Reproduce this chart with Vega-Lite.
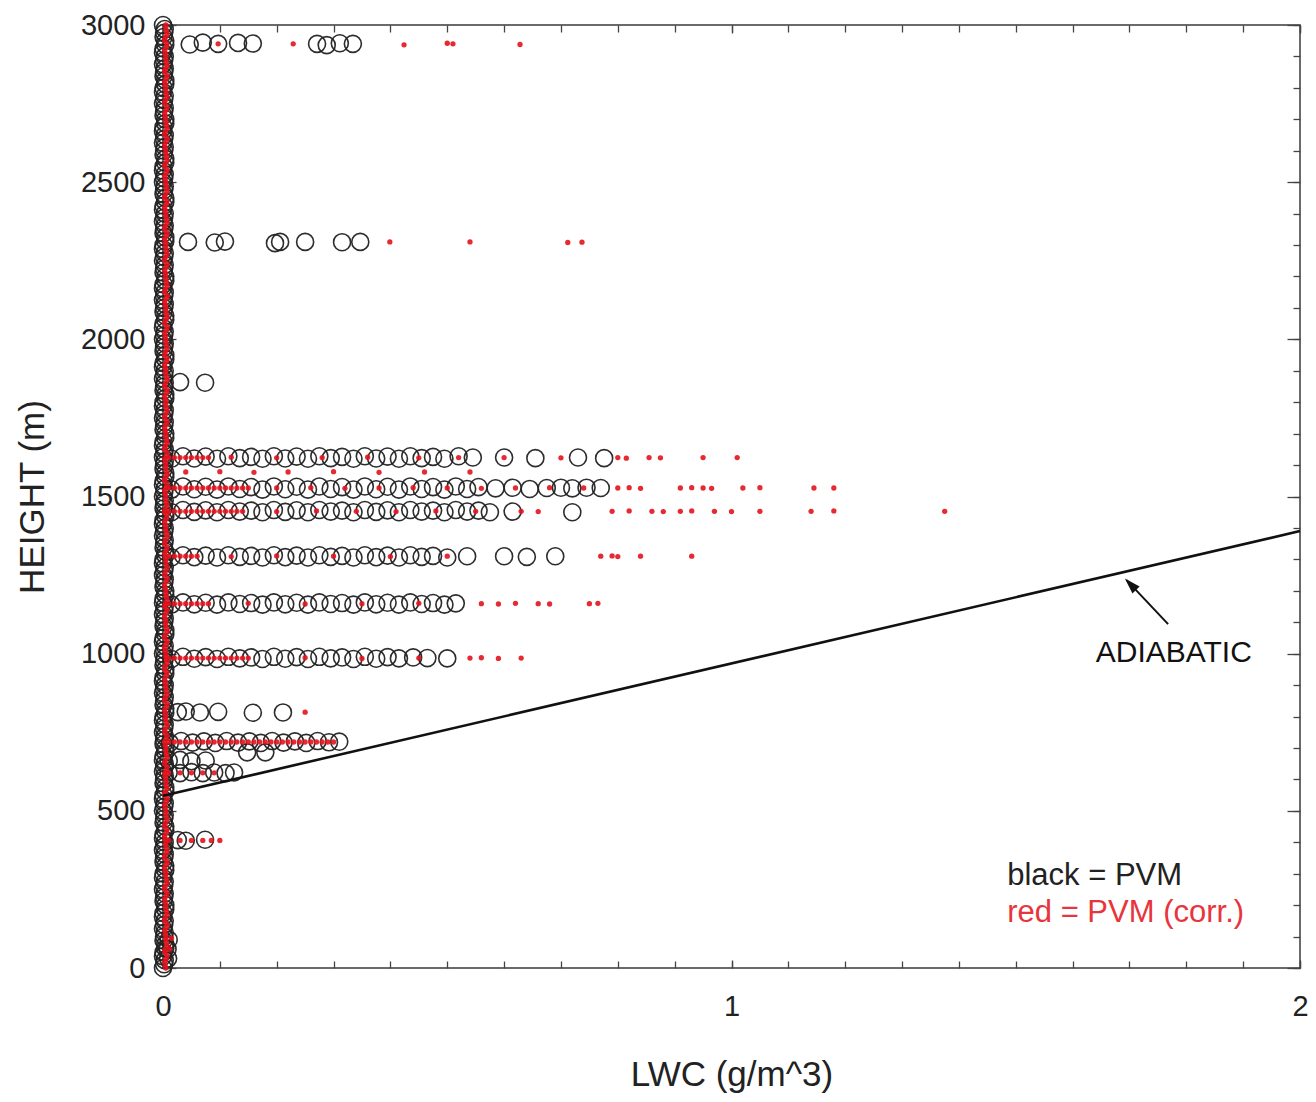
{
"$schema":"https://vega.github.io/schema/vega-lite/v6.json",
"autosize":{"type":"none"},
"width":1137,"height":943,
"padding":{"left":163,"top":25,"right":16,"bottom":134},
"background":"white",
"config":{"view":{"stroke":"#3a3a3a","strokeWidth":1.5},"axis":{"grid":false,"domain":false,"labelFont":"Liberation Sans","titleFont":"Liberation Sans","labelColor":"#222","titleColor":"#222","tickColor":"#444","tickWidth":1.3,"titleFontWeight":"normal","labelFlush":false,"labelOverlap":false}},
"datasets":{
"pvm":[
{"x":0,"h":0},{"x":0.003,"h":25},{"x":0.001,"h":50},{"x":0.004,"h":75},{"x":0.002,"h":100},{"x":0.009,"h":30},{"x":0.008,"h":60},{"x":0.01,"h":90},
{"x":0,"h":125},{"x":0.003,"h":150},{"x":0.001,"h":175},{"x":0.004,"h":200},{"x":0.002,"h":225},
{"x":0,"h":250},{"x":0.003,"h":275},{"x":0.001,"h":300},{"x":0.004,"h":325},{"x":0.002,"h":350},
{"x":0,"h":375},{"x":0.003,"h":400},{"x":0.001,"h":425},{"x":0.004,"h":450},{"x":0.002,"h":475},
{"x":0,"h":500},{"x":0.003,"h":525},{"x":0.001,"h":550},{"x":0.004,"h":575},{"x":0.002,"h":600},
{"x":0,"h":625},{"x":0.003,"h":650},{"x":0.001,"h":675},{"x":0.004,"h":700},{"x":0.002,"h":725},
{"x":0,"h":750},{"x":0.003,"h":775},{"x":0.001,"h":800},{"x":0.004,"h":825},{"x":0.002,"h":850},
{"x":0,"h":875},{"x":0.003,"h":900},{"x":0.001,"h":925},{"x":0.004,"h":950},{"x":0.002,"h":975},
{"x":0,"h":1000},{"x":0.003,"h":1025},{"x":0.001,"h":1050},{"x":0.004,"h":1075},{"x":0.002,"h":1100},
{"x":0,"h":1125},{"x":0.003,"h":1150},{"x":0.001,"h":1175},{"x":0.004,"h":1200},{"x":0.002,"h":1225},
{"x":0,"h":1250},{"x":0.003,"h":1275},{"x":0.001,"h":1300},{"x":0.004,"h":1325},{"x":0.002,"h":1350},
{"x":0,"h":1375},{"x":0.003,"h":1400},{"x":0.001,"h":1425},{"x":0.004,"h":1450},{"x":0.002,"h":1475},
{"x":0,"h":1500},{"x":0.003,"h":1525},{"x":0.001,"h":1550},{"x":0.004,"h":1575},{"x":0.002,"h":1600},
{"x":0,"h":1625},{"x":0.003,"h":1650},{"x":0.001,"h":1675},{"x":0.004,"h":1700},{"x":0.002,"h":1725},
{"x":0,"h":1750},{"x":0.003,"h":1775},{"x":0.001,"h":1800},{"x":0.004,"h":1825},{"x":0.002,"h":1850},
{"x":0,"h":1875},{"x":0.003,"h":1900},{"x":0.001,"h":1925},{"x":0.004,"h":1950},{"x":0.002,"h":1975},
{"x":0,"h":2000},{"x":0.003,"h":2025},{"x":0.001,"h":2050},{"x":0.004,"h":2075},{"x":0.002,"h":2100},
{"x":0,"h":2125},{"x":0.003,"h":2150},{"x":0.001,"h":2175},{"x":0.004,"h":2200},{"x":0.002,"h":2225},
{"x":0,"h":2250},{"x":0.003,"h":2275},{"x":0.001,"h":2300},{"x":0.004,"h":2325},{"x":0.002,"h":2350},
{"x":0,"h":2375},{"x":0.003,"h":2400},{"x":0.001,"h":2425},{"x":0.004,"h":2450},{"x":0.002,"h":2475},
{"x":0,"h":2500},{"x":0.003,"h":2525},{"x":0.001,"h":2550},{"x":0.004,"h":2575},{"x":0.002,"h":2600},
{"x":0,"h":2625},{"x":0.003,"h":2650},{"x":0.001,"h":2675},{"x":0.004,"h":2700},{"x":0.002,"h":2725},
{"x":0,"h":2750},{"x":0.003,"h":2775},{"x":0.001,"h":2800},{"x":0.004,"h":2825},{"x":0.002,"h":2850},
{"x":0,"h":2875},{"x":0.003,"h":2900},{"x":0.001,"h":2925},{"x":0.004,"h":2950},{"x":0.002,"h":2975},{"x":0,"h":3000},
{"x":0.002,"h":12},{"x":0,"h":37},{"x":0.004,"h":62},{"x":0.001,"h":87},{"x":0.003,"h":112},
{"x":0.002,"h":137},{"x":0,"h":162},{"x":0.004,"h":187},{"x":0.001,"h":212},{"x":0.003,"h":237},
{"x":0.002,"h":262},{"x":0,"h":287},{"x":0.004,"h":312},{"x":0.001,"h":337},{"x":0.003,"h":362},
{"x":0.002,"h":387},{"x":0,"h":412},{"x":0.004,"h":437},{"x":0.001,"h":462},{"x":0.003,"h":487},
{"x":0.002,"h":512},{"x":0,"h":537},{"x":0.004,"h":562},{"x":0.001,"h":587},{"x":0.003,"h":612},
{"x":0.002,"h":637},{"x":0,"h":662},{"x":0.004,"h":687},{"x":0.001,"h":712},{"x":0.003,"h":737},
{"x":0.002,"h":762},{"x":0,"h":787},{"x":0.004,"h":812},{"x":0.001,"h":837},{"x":0.003,"h":862},
{"x":0.002,"h":887},{"x":0,"h":912},{"x":0.004,"h":937},{"x":0.001,"h":962},{"x":0.003,"h":987},
{"x":0.002,"h":1012},{"x":0,"h":1037},{"x":0.004,"h":1062},{"x":0.001,"h":1087},{"x":0.003,"h":1112},
{"x":0.002,"h":1137},{"x":0,"h":1162},{"x":0.004,"h":1187},{"x":0.001,"h":1212},{"x":0.003,"h":1237},
{"x":0.002,"h":1262},{"x":0,"h":1287},{"x":0.004,"h":1312},{"x":0.001,"h":1337},{"x":0.003,"h":1362},
{"x":0.002,"h":1387},{"x":0,"h":1412},{"x":0.004,"h":1437},{"x":0.001,"h":1462},{"x":0.003,"h":1487},
{"x":0.002,"h":1512},{"x":0,"h":1537},{"x":0.004,"h":1562},{"x":0.001,"h":1587},{"x":0.003,"h":1612},
{"x":0.002,"h":1637},{"x":0,"h":1662},{"x":0.004,"h":1687},{"x":0.001,"h":1712},{"x":0.003,"h":1737},
{"x":0.002,"h":1762},{"x":0,"h":1787},{"x":0.004,"h":1812},{"x":0.001,"h":1837},{"x":0.003,"h":1862},
{"x":0.002,"h":1887},{"x":0,"h":1912},{"x":0.004,"h":1937},{"x":0.001,"h":1962},{"x":0.003,"h":1987},
{"x":0.002,"h":2012},{"x":0,"h":2037},{"x":0.004,"h":2062},{"x":0.001,"h":2087},{"x":0.003,"h":2112},
{"x":0.002,"h":2137},{"x":0,"h":2162},{"x":0.004,"h":2187},{"x":0.001,"h":2212},{"x":0.003,"h":2237},
{"x":0.002,"h":2262},{"x":0,"h":2287},{"x":0.004,"h":2312},{"x":0.001,"h":2337},{"x":0.003,"h":2362},
{"x":0.002,"h":2387},{"x":0,"h":2412},{"x":0.004,"h":2437},{"x":0.001,"h":2462},{"x":0.003,"h":2487},
{"x":0.002,"h":2512},{"x":0,"h":2537},{"x":0.004,"h":2562},{"x":0.001,"h":2587},{"x":0.003,"h":2612},
{"x":0.002,"h":2637},{"x":0,"h":2662},{"x":0.004,"h":2687},{"x":0.001,"h":2712},{"x":0.003,"h":2737},
{"x":0.002,"h":2762},{"x":0,"h":2787},{"x":0.004,"h":2812},{"x":0.001,"h":2837},{"x":0.003,"h":2862},
{"x":0.002,"h":2887},{"x":0,"h":2912},{"x":0.004,"h":2937},{"x":0.001,"h":2962},{"x":0.003,"h":2987},
{"x":0.047,"h":2938},{"x":0.07,"h":2944},{"x":0.097,"h":2940},{"x":0.132,"h":2943},{"x":0.158,"h":2941},{"x":0.271,"h":2940},{"x":0.288,"h":2936},{"x":0.311,"h":2942},{"x":0.334,"h":2940},
{"x":0.044,"h":2310},{"x":0.091,"h":2308},{"x":0.109,"h":2311},{"x":0.197,"h":2306},{"x":0.206,"h":2310},{"x":0.25,"h":2310},{"x":0.315,"h":2309},{"x":0.347,"h":2310},
{"x":0.03,"h":1864},{"x":0.074,"h":1862},
{"x":0.015,"h":1620},{"x":0.035,"h":1628},{"x":0.055,"h":1621},{"x":0.075,"h":1627},{"x":0.095,"h":1620},{"x":0.115,"h":1628},{"x":0.135,"h":1622},{"x":0.155,"h":1626},{"x":0.175,"h":1620},{"x":0.195,"h":1628},{"x":0.215,"h":1621},{"x":0.235,"h":1627},{"x":0.255,"h":1620},{"x":0.275,"h":1628},{"x":0.295,"h":1622},{"x":0.315,"h":1626},{"x":0.335,"h":1620},{"x":0.355,"h":1628},{"x":0.375,"h":1621},{"x":0.395,"h":1627},{"x":0.415,"h":1620},{"x":0.435,"h":1628},{"x":0.455,"h":1622},{"x":0.475,"h":1626},{"x":0.495,"h":1620},{"x":0.52,"h":1628},{"x":0.545,"h":1624},{"x":0.6,"h":1624},{"x":0.655,"h":1622},{"x":0.73,"h":1624},{"x":0.776,"h":1622},
{"x":0.015,"h":1522},{"x":0.035,"h":1532},{"x":0.055,"h":1523},{"x":0.075,"h":1531},{"x":0.095,"h":1522},{"x":0.115,"h":1532},{"x":0.135,"h":1524},{"x":0.155,"h":1530},{"x":0.175,"h":1522},{"x":0.195,"h":1532},{"x":0.215,"h":1523},{"x":0.235,"h":1531},{"x":0.255,"h":1522},{"x":0.275,"h":1532},{"x":0.295,"h":1524},{"x":0.315,"h":1530},{"x":0.335,"h":1522},{"x":0.355,"h":1532},{"x":0.375,"h":1523},{"x":0.395,"h":1531},{"x":0.415,"h":1522},{"x":0.435,"h":1532},{"x":0.455,"h":1524},{"x":0.475,"h":1530},{"x":0.495,"h":1522},{"x":0.515,"h":1532},{"x":0.535,"h":1524},{"x":0.555,"h":1530},{"x":0.585,"h":1526},{"x":0.615,"h":1528},{"x":0.645,"h":1524},{"x":0.675,"h":1527},{"x":0.7,"h":1528},{"x":0.72,"h":1526},{"x":0.745,"h":1528},{"x":0.77,"h":1527},
{"x":0.015,"h":1450},{"x":0.035,"h":1457},{"x":0.055,"h":1451},{"x":0.075,"h":1456},{"x":0.095,"h":1450},{"x":0.115,"h":1457},{"x":0.135,"h":1452},{"x":0.155,"h":1455},{"x":0.175,"h":1450},{"x":0.195,"h":1457},{"x":0.215,"h":1451},{"x":0.235,"h":1456},{"x":0.255,"h":1450},{"x":0.275,"h":1457},{"x":0.295,"h":1452},{"x":0.315,"h":1455},{"x":0.335,"h":1450},{"x":0.355,"h":1457},{"x":0.375,"h":1451},{"x":0.395,"h":1456},{"x":0.415,"h":1450},{"x":0.435,"h":1457},{"x":0.455,"h":1452},{"x":0.475,"h":1455},{"x":0.495,"h":1450},{"x":0.515,"h":1457},{"x":0.535,"h":1452},{"x":0.555,"h":1455},{"x":0.575,"h":1450},{"x":0.615,"h":1452},{"x":0.72,"h":1450},
{"x":0.015,"h":1306},{"x":0.035,"h":1313},{"x":0.055,"h":1307},{"x":0.075,"h":1312},{"x":0.095,"h":1306},{"x":0.115,"h":1313},{"x":0.135,"h":1308},{"x":0.155,"h":1311},{"x":0.175,"h":1306},{"x":0.195,"h":1313},{"x":0.215,"h":1307},{"x":0.235,"h":1312},{"x":0.255,"h":1306},{"x":0.275,"h":1313},{"x":0.295,"h":1308},{"x":0.315,"h":1311},{"x":0.335,"h":1306},{"x":0.355,"h":1313},{"x":0.375,"h":1307},{"x":0.395,"h":1312},{"x":0.415,"h":1306},{"x":0.435,"h":1313},{"x":0.455,"h":1308},{"x":0.475,"h":1311},{"x":0.5,"h":1306},{"x":0.535,"h":1310},{"x":0.6,"h":1310},{"x":0.64,"h":1308},{"x":0.69,"h":1310},
{"x":0.015,"h":1156},{"x":0.035,"h":1163},{"x":0.055,"h":1157},{"x":0.075,"h":1162},{"x":0.095,"h":1156},{"x":0.115,"h":1163},{"x":0.135,"h":1158},{"x":0.155,"h":1161},{"x":0.175,"h":1156},{"x":0.195,"h":1163},{"x":0.215,"h":1157},{"x":0.235,"h":1162},{"x":0.255,"h":1156},{"x":0.275,"h":1163},{"x":0.295,"h":1158},{"x":0.315,"h":1161},{"x":0.335,"h":1156},{"x":0.355,"h":1163},{"x":0.375,"h":1157},{"x":0.395,"h":1162},{"x":0.415,"h":1156},{"x":0.435,"h":1163},{"x":0.455,"h":1158},{"x":0.475,"h":1161},{"x":0.495,"h":1156},{"x":0.515,"h":1160},
{"x":0.015,"h":983},{"x":0.035,"h":990},{"x":0.055,"h":984},{"x":0.075,"h":989},{"x":0.095,"h":983},{"x":0.115,"h":990},{"x":0.135,"h":985},{"x":0.155,"h":988},{"x":0.175,"h":983},{"x":0.195,"h":990},{"x":0.215,"h":984},{"x":0.235,"h":989},{"x":0.255,"h":983},{"x":0.275,"h":990},{"x":0.295,"h":985},{"x":0.315,"h":988},{"x":0.335,"h":983},{"x":0.355,"h":990},{"x":0.375,"h":984},{"x":0.395,"h":989},{"x":0.415,"h":985},{"x":0.44,"h":988},{"x":0.465,"h":986},{"x":0.5,"h":985},
{"x":0.026,"h":814},{"x":0.04,"h":816},{"x":0.065,"h":813},{"x":0.097,"h":815},{"x":0.158,"h":812},{"x":0.211,"h":813},
{"x":0.012,"h":716},{"x":0.032,"h":722},{"x":0.052,"h":717},{"x":0.072,"h":721},{"x":0.092,"h":716},{"x":0.112,"h":722},{"x":0.132,"h":717},{"x":0.152,"h":721},{"x":0.172,"h":716},{"x":0.192,"h":722},{"x":0.212,"h":717},{"x":0.232,"h":721},{"x":0.252,"h":716},{"x":0.272,"h":722},{"x":0.292,"h":718},{"x":0.31,"h":720},
{"x":0.148,"h":686},{"x":0.18,"h":686},
{"x":0.01,"h":660},{"x":0.03,"h":662},{"x":0.05,"h":658},{"x":0.075,"h":660},
{"x":0.01,"h":622},{"x":0.03,"h":620},{"x":0.05,"h":623},{"x":0.07,"h":620},{"x":0.09,"h":622},{"x":0.11,"h":620},{"x":0.125,"h":622},
{"x":0.026,"h":407},{"x":0.04,"h":405},{"x":0.074,"h":408}
],
"corr":[
{"x":0.005,"h":0},{"x":0.003,"h":20},{"x":0.007,"h":40},{"x":0.004,"h":60},{"x":0.006,"h":80},{"x":0.005,"h":100},{"x":0.003,"h":120},{"x":0.007,"h":140},{"x":0.004,"h":160},{"x":0.006,"h":180},
{"x":0.005,"h":200},{"x":0.003,"h":220},{"x":0.007,"h":240},{"x":0.004,"h":260},{"x":0.006,"h":280},{"x":0.005,"h":300},{"x":0.003,"h":320},{"x":0.007,"h":340},{"x":0.004,"h":360},{"x":0.006,"h":380},
{"x":0.005,"h":400},{"x":0.003,"h":420},{"x":0.007,"h":440},{"x":0.004,"h":460},{"x":0.006,"h":480},{"x":0.005,"h":500},{"x":0.003,"h":520},{"x":0.007,"h":540},{"x":0.004,"h":560},{"x":0.006,"h":580},
{"x":0.005,"h":600},{"x":0.003,"h":620},{"x":0.007,"h":640},{"x":0.004,"h":660},{"x":0.006,"h":680},{"x":0.005,"h":700},{"x":0.003,"h":720},{"x":0.007,"h":740},{"x":0.004,"h":760},{"x":0.006,"h":780},
{"x":0.005,"h":800},{"x":0.003,"h":820},{"x":0.007,"h":840},{"x":0.004,"h":860},{"x":0.006,"h":880},{"x":0.005,"h":900},{"x":0.003,"h":920},{"x":0.007,"h":940},{"x":0.004,"h":960},{"x":0.006,"h":980},
{"x":0.005,"h":1000},{"x":0.003,"h":1020},{"x":0.007,"h":1040},{"x":0.004,"h":1060},{"x":0.006,"h":1080},{"x":0.005,"h":1100},{"x":0.003,"h":1120},{"x":0.007,"h":1140},{"x":0.004,"h":1160},{"x":0.006,"h":1180},
{"x":0.005,"h":1200},{"x":0.003,"h":1220},{"x":0.007,"h":1240},{"x":0.004,"h":1260},{"x":0.006,"h":1280},{"x":0.005,"h":1300},{"x":0.003,"h":1320},{"x":0.007,"h":1340},{"x":0.004,"h":1360},{"x":0.006,"h":1380},
{"x":0.005,"h":1400},{"x":0.003,"h":1420},{"x":0.007,"h":1440},{"x":0.004,"h":1460},{"x":0.006,"h":1480},{"x":0.005,"h":1500},{"x":0.003,"h":1520},{"x":0.007,"h":1540},{"x":0.004,"h":1560},{"x":0.006,"h":1580},
{"x":0.005,"h":1600},{"x":0.003,"h":1620},{"x":0.007,"h":1640},{"x":0.004,"h":1660},{"x":0.006,"h":1680},{"x":0.005,"h":1700},{"x":0.003,"h":1720},{"x":0.007,"h":1740},{"x":0.004,"h":1760},{"x":0.006,"h":1780},
{"x":0.005,"h":1800},{"x":0.003,"h":1820},{"x":0.007,"h":1840},{"x":0.004,"h":1860},{"x":0.006,"h":1880},{"x":0.005,"h":1900},{"x":0.003,"h":1920},{"x":0.007,"h":1940},{"x":0.004,"h":1960},{"x":0.006,"h":1980},
{"x":0.005,"h":2000},{"x":0.003,"h":2020},{"x":0.007,"h":2040},{"x":0.004,"h":2060},{"x":0.006,"h":2080},{"x":0.005,"h":2100},{"x":0.003,"h":2120},{"x":0.007,"h":2140},{"x":0.004,"h":2160},{"x":0.006,"h":2180},
{"x":0.005,"h":2200},{"x":0.003,"h":2220},{"x":0.007,"h":2240},{"x":0.004,"h":2260},{"x":0.006,"h":2280},{"x":0.005,"h":2300},{"x":0.003,"h":2320},{"x":0.007,"h":2340},{"x":0.004,"h":2360},{"x":0.006,"h":2380},
{"x":0.005,"h":2400},{"x":0.003,"h":2420},{"x":0.007,"h":2440},{"x":0.004,"h":2460},{"x":0.006,"h":2480},{"x":0.005,"h":2500},{"x":0.003,"h":2520},{"x":0.007,"h":2540},{"x":0.004,"h":2560},{"x":0.006,"h":2580},
{"x":0.005,"h":2600},{"x":0.003,"h":2620},{"x":0.007,"h":2640},{"x":0.004,"h":2660},{"x":0.006,"h":2680},{"x":0.005,"h":2700},{"x":0.003,"h":2720},{"x":0.007,"h":2740},{"x":0.004,"h":2760},{"x":0.006,"h":2780},
{"x":0.005,"h":2800},{"x":0.003,"h":2820},{"x":0.007,"h":2840},{"x":0.004,"h":2860},{"x":0.006,"h":2880},{"x":0.005,"h":2900},{"x":0.003,"h":2920},{"x":0.007,"h":2940},{"x":0.004,"h":2960},{"x":0.006,"h":2980},{"x":0.005,"h":3000},
{"x":0.004,"h":10},{"x":0.006,"h":30},{"x":0.003,"h":50},{"x":0.007,"h":70},{"x":0.005,"h":90},{"x":0.004,"h":110},{"x":0.006,"h":130},{"x":0.003,"h":150},{"x":0.007,"h":170},{"x":0.005,"h":190},
{"x":0.004,"h":210},{"x":0.006,"h":230},{"x":0.003,"h":250},{"x":0.007,"h":270},{"x":0.005,"h":290},{"x":0.004,"h":310},{"x":0.006,"h":330},{"x":0.003,"h":350},{"x":0.007,"h":370},{"x":0.005,"h":390},
{"x":0.004,"h":410},{"x":0.006,"h":430},{"x":0.003,"h":450},{"x":0.007,"h":470},{"x":0.005,"h":490},{"x":0.004,"h":510},{"x":0.006,"h":530},{"x":0.003,"h":550},{"x":0.007,"h":570},{"x":0.005,"h":590},
{"x":0.004,"h":610},{"x":0.006,"h":630},{"x":0.003,"h":650},{"x":0.007,"h":670},{"x":0.005,"h":690},{"x":0.004,"h":710},{"x":0.006,"h":730},{"x":0.003,"h":750},{"x":0.007,"h":770},{"x":0.005,"h":790},
{"x":0.004,"h":810},{"x":0.006,"h":830},{"x":0.003,"h":850},{"x":0.007,"h":870},{"x":0.005,"h":890},{"x":0.004,"h":910},{"x":0.006,"h":930},{"x":0.003,"h":950},{"x":0.007,"h":970},{"x":0.005,"h":990},
{"x":0.004,"h":1010},{"x":0.006,"h":1030},{"x":0.003,"h":1050},{"x":0.007,"h":1070},{"x":0.005,"h":1090},{"x":0.004,"h":1110},{"x":0.006,"h":1130},{"x":0.003,"h":1150},{"x":0.007,"h":1170},{"x":0.005,"h":1190},
{"x":0.004,"h":1210},{"x":0.006,"h":1230},{"x":0.003,"h":1250},{"x":0.007,"h":1270},{"x":0.005,"h":1290},{"x":0.004,"h":1310},{"x":0.006,"h":1330},{"x":0.003,"h":1350},{"x":0.007,"h":1370},{"x":0.005,"h":1390},
{"x":0.004,"h":1410},{"x":0.006,"h":1430},{"x":0.003,"h":1450},{"x":0.007,"h":1470},{"x":0.005,"h":1490},{"x":0.004,"h":1510},{"x":0.006,"h":1530},{"x":0.003,"h":1550},{"x":0.007,"h":1570},{"x":0.005,"h":1590},
{"x":0.004,"h":1610},{"x":0.006,"h":1630},{"x":0.003,"h":1650},{"x":0.007,"h":1670},{"x":0.005,"h":1690},{"x":0.004,"h":1710},{"x":0.006,"h":1730},{"x":0.003,"h":1750},{"x":0.007,"h":1770},{"x":0.005,"h":1790},
{"x":0.004,"h":1810},{"x":0.006,"h":1830},{"x":0.003,"h":1850},{"x":0.007,"h":1870},{"x":0.005,"h":1890},{"x":0.004,"h":1910},{"x":0.006,"h":1930},{"x":0.003,"h":1950},{"x":0.007,"h":1970},{"x":0.005,"h":1990},
{"x":0.004,"h":2010},{"x":0.006,"h":2030},{"x":0.003,"h":2050},{"x":0.007,"h":2070},{"x":0.005,"h":2090},{"x":0.004,"h":2110},{"x":0.006,"h":2130},{"x":0.003,"h":2150},{"x":0.007,"h":2170},{"x":0.005,"h":2190},
{"x":0.004,"h":2210},{"x":0.006,"h":2230},{"x":0.003,"h":2250},{"x":0.007,"h":2270},{"x":0.005,"h":2290},{"x":0.004,"h":2310},{"x":0.006,"h":2330},{"x":0.003,"h":2350},{"x":0.007,"h":2370},{"x":0.005,"h":2390},
{"x":0.004,"h":2410},{"x":0.006,"h":2430},{"x":0.003,"h":2450},{"x":0.007,"h":2470},{"x":0.005,"h":2490},{"x":0.004,"h":2510},{"x":0.006,"h":2530},{"x":0.003,"h":2550},{"x":0.007,"h":2570},{"x":0.005,"h":2590},
{"x":0.004,"h":2610},{"x":0.006,"h":2630},{"x":0.003,"h":2650},{"x":0.007,"h":2670},{"x":0.005,"h":2690},{"x":0.004,"h":2710},{"x":0.006,"h":2730},{"x":0.003,"h":2750},{"x":0.007,"h":2770},{"x":0.005,"h":2790},
{"x":0.004,"h":2810},{"x":0.006,"h":2830},{"x":0.003,"h":2850},{"x":0.007,"h":2870},{"x":0.005,"h":2890},{"x":0.004,"h":2910},{"x":0.006,"h":2930},{"x":0.003,"h":2950},{"x":0.007,"h":2970},{"x":0.005,"h":2990},
{"x":0.015,"h":95},{"x":0.012,"h":60},
{"x":0.097,"h":2940},{"x":0.229,"h":2940},{"x":0.424,"h":2937},{"x":0.5,"h":2942},{"x":0.51,"h":2940},{"x":0.628,"h":2938},
{"x":0.399,"h":2310},{"x":0.54,"h":2310},{"x":0.712,"h":2308},{"x":0.737,"h":2309},
{"x":0.01,"h":1624},{"x":0.02,"h":1624},{"x":0.03,"h":1624},{"x":0.04,"h":1624},{"x":0.05,"h":1624},{"x":0.06,"h":1624},{"x":0.07,"h":1624},{"x":0.08,"h":1624},{"x":0.12,"h":1625},{"x":0.2,"h":1623},{"x":0.28,"h":1624},{"x":0.36,"h":1625},{"x":0.45,"h":1623},{"x":0.52,"h":1624},{"x":0.6,"h":1624},{"x":0.7,"h":1623},{"x":0.8,"h":1624},{"x":0.815,"h":1622},{"x":0.855,"h":1624},{"x":0.875,"h":1623},{"x":0.95,"h":1624},{"x":1.01,"h":1624},
{"x":0.04,"h":1578},{"x":0.1,"h":1579},{"x":0.16,"h":1577},{"x":0.22,"h":1578},{"x":0.3,"h":1579},{"x":0.38,"h":1577},{"x":0.46,"h":1578},{"x":0.54,"h":1578},
{"x":0.01,"h":1527},{"x":0.02,"h":1527},{"x":0.03,"h":1527},{"x":0.04,"h":1527},{"x":0.05,"h":1527},{"x":0.06,"h":1527},{"x":0.07,"h":1527},{"x":0.08,"h":1527},{"x":0.09,"h":1527},{"x":0.1,"h":1527},{"x":0.11,"h":1527},{"x":0.12,"h":1527},{"x":0.13,"h":1527},{"x":0.14,"h":1527},{"x":0.15,"h":1527},{"x":0.2,"h":1527},{"x":0.26,"h":1528},{"x":0.32,"h":1526},{"x":0.38,"h":1527},{"x":0.44,"h":1528},{"x":0.5,"h":1527},{"x":0.56,"h":1526},{"x":0.62,"h":1527},{"x":0.68,"h":1528},{"x":0.74,"h":1527},{"x":0.8,"h":1527},{"x":0.82,"h":1528},{"x":0.84,"h":1526},{"x":0.91,"h":1527},{"x":0.93,"h":1528},{"x":0.95,"h":1527},{"x":0.965,"h":1526},{"x":1.02,"h":1527},{"x":1.05,"h":1528},{"x":1.145,"h":1527},{"x":1.18,"h":1527},
{"x":0.01,"h":1453},{"x":0.02,"h":1453},{"x":0.03,"h":1453},{"x":0.04,"h":1453},{"x":0.05,"h":1453},{"x":0.06,"h":1453},{"x":0.07,"h":1453},{"x":0.08,"h":1453},{"x":0.09,"h":1453},{"x":0.1,"h":1453},{"x":0.11,"h":1453},{"x":0.12,"h":1453},{"x":0.13,"h":1453},{"x":0.14,"h":1453},{"x":0.2,"h":1452},{"x":0.27,"h":1454},{"x":0.34,"h":1453},{"x":0.41,"h":1452},{"x":0.48,"h":1454},{"x":0.55,"h":1453},{"x":0.63,"h":1453},{"x":0.66,"h":1452},{"x":0.79,"h":1453},{"x":0.82,"h":1454},{"x":0.86,"h":1453},{"x":0.88,"h":1452},{"x":0.91,"h":1453},{"x":0.93,"h":1454},{"x":0.97,"h":1453},{"x":1.0,"h":1452},{"x":1.05,"h":1453},{"x":1.14,"h":1453},{"x":1.18,"h":1454},{"x":1.375,"h":1453},
{"x":0.01,"h":1310},{"x":0.02,"h":1310},{"x":0.03,"h":1310},{"x":0.04,"h":1310},{"x":0.05,"h":1310},{"x":0.06,"h":1310},{"x":0.12,"h":1309},{"x":0.2,"h":1311},{"x":0.3,"h":1310},{"x":0.4,"h":1309},{"x":0.5,"h":1310},{"x":0.77,"h":1310},{"x":0.79,"h":1311},{"x":0.8,"h":1309},{"x":0.84,"h":1310},{"x":0.93,"h":1310},
{"x":0.01,"h":1159},{"x":0.02,"h":1159},{"x":0.03,"h":1159},{"x":0.04,"h":1159},{"x":0.05,"h":1159},{"x":0.06,"h":1159},{"x":0.07,"h":1159},{"x":0.08,"h":1159},{"x":0.15,"h":1160},{"x":0.25,"h":1158},{"x":0.35,"h":1159},{"x":0.45,"h":1160},{"x":0.56,"h":1159},{"x":0.59,"h":1158},{"x":0.62,"h":1160},{"x":0.66,"h":1159},{"x":0.68,"h":1158},{"x":0.75,"h":1159},{"x":0.765,"h":1160},
{"x":0.01,"h":986},{"x":0.02,"h":986},{"x":0.03,"h":986},{"x":0.04,"h":986},{"x":0.05,"h":986},{"x":0.06,"h":986},{"x":0.07,"h":986},{"x":0.08,"h":986},{"x":0.09,"h":986},{"x":0.1,"h":986},{"x":0.11,"h":986},{"x":0.12,"h":986},{"x":0.13,"h":986},{"x":0.14,"h":986},{"x":0.15,"h":986},{"x":0.25,"h":987},{"x":0.35,"h":985},{"x":0.45,"h":986},{"x":0.54,"h":986},{"x":0.56,"h":987},{"x":0.59,"h":985},{"x":0.63,"h":986},
{"x":0.25,"h":814},
{"x":0.01,"h":719},{"x":0.02,"h":719},{"x":0.03,"h":719},{"x":0.04,"h":719},{"x":0.05,"h":719},{"x":0.06,"h":719},{"x":0.07,"h":719},{"x":0.08,"h":719},{"x":0.09,"h":719},{"x":0.1,"h":719},{"x":0.11,"h":719},{"x":0.12,"h":719},{"x":0.13,"h":719},{"x":0.14,"h":719},{"x":0.15,"h":719},{"x":0.16,"h":719},{"x":0.17,"h":719},{"x":0.18,"h":719},{"x":0.19,"h":719},{"x":0.2,"h":719},{"x":0.21,"h":719},{"x":0.22,"h":719},{"x":0.23,"h":719},{"x":0.24,"h":719},{"x":0.25,"h":719},{"x":0.26,"h":719},{"x":0.27,"h":719},{"x":0.28,"h":719},{"x":0.29,"h":719},{"x":0.3,"h":719},
{"x":0.01,"h":621},{"x":0.03,"h":621},{"x":0.05,"h":621},{"x":0.07,"h":621},{"x":0.09,"h":621},
{"x":0.01,"h":406},{"x":0.03,"h":406},{"x":0.05,"h":406},{"x":0.07,"h":406},{"x":0.085,"h":406},{"x":0.1,"h":406}
],
"adi":[{"x":0,"h":548},{"x":2,"h":1390}],
"arrow":[{"x":1.768,"h":1094,"x2":1.695,"h2":1234}],
"head":[{"x":1.692,"h":1239}],
"lab1":[{"x":1.778,"h":1002,"t":"ADIABATIC"}],
"lab2":[{"x":1.485,"h":293,"t":"black = PVM"}],
"lab3":[{"x":1.485,"h":175,"t":"red = PVM (corr.)"}]
},
"resolve":{"axis":{"x":"independent","y":"independent"}},
"layer":[
{"data":{"name":"pvm"},
 "mark":{"type":"point","shape":"circle","filled":false,"size":290,"stroke":"#222","strokeWidth":1.6,"opacity":0.95},
 "encoding":{
  "x":{"field":"x","type":"quantitative","scale":{"domain":[0,2],"nice":false},"axis":{"orient":"bottom","values":[0,1,2],"labelExpr":"datum.value == 0 ? '0' : datum.value == 1 ? '1' : '2'","labelOverlap":false,"labelFlush":false,"ticks":false,"labelPadding":24,"labelFontSize":29,"title":"LWC (g/m^3)","titleFontSize":35,"titlePadding":36}},
  "y":{"field":"h","type":"quantitative","scale":{"domain":[0,3000],"nice":false},"axis":{"orient":"left","values":[0,500,1000,1500,2000,2500,3000],"format":"d","labelOverlap":false,"labelFlush":false,"ticks":false,"labelPadding":18,"labelFontSize":29,"title":"HEIGHT (m)","titleFontSize":35,"titlePadding":30}}
 }},
{"data":{"name":"corr"},
 "mark":{"type":"point","shape":"circle","filled":true,"size":28,"color":"#e3121c","opacity":0.9},
 "encoding":{
  "x":{"field":"x","type":"quantitative","axis":{"orient":"bottom","values":[0,0.1,0.2,0.3,0.4,0.5,0.6,0.7,0.8,0.9,1,1.1,1.2,1.3,1.4,1.5,1.6,1.7,1.8,1.9,2],"labels":false,"tickSize":-7,"title":null}},
  "y":{"field":"h","type":"quantitative","axis":{"orient":"left","values":[0,100,200,300,400,500,600,700,800,900,1000,1100,1200,1300,1400,1500,1600,1700,1800,1900,2000,2100,2200,2300,2400,2500,2600,2700,2800,2900,3000],"labels":false,"tickSize":-7,"title":null}}
 }},
{"data":{"name":"adi"},
 "mark":{"type":"line","color":"#111","strokeWidth":2.6},
 "encoding":{
  "x":{"field":"x","type":"quantitative","axis":{"orient":"bottom","values":[0,1,2],"labels":false,"tickSize":-8,"title":null}},
  "y":{"field":"h","type":"quantitative","axis":{"orient":"left","values":[0,500,1000,1500,2000,2500,3000],"labels":false,"tickSize":-13,"title":null}}
 }},
{"data":{"name":"arrow"},
 "mark":{"type":"rule","color":"#111","strokeWidth":2},
 "encoding":{
  "x":{"field":"x","type":"quantitative","axis":{"orient":"top","values":[0,0.1,0.2,0.3,0.4,0.5,0.6,0.7,0.8,0.9,1,1.1,1.2,1.3,1.4,1.5,1.6,1.7,1.8,1.9,2],"labels":false,"tickSize":-7,"title":null}},
  "y":{"field":"h","type":"quantitative","axis":{"orient":"right","values":[0,100,200,300,400,500,600,700,800,900,1000,1100,1200,1300,1400,1500,1600,1700,1800,1900,2000,2100,2200,2300,2400,2500,2600,2700,2800,2900,3000],"labels":false,"tickSize":-7,"title":null}},
  "x2":{"field":"x2"},"y2":{"field":"h2"}
 }},
{"data":{"name":"head"},
 "mark":{"type":"point","shape":"M0,0L0.5,1.6L-0.5,1.6Z","filled":true,"size":400,"color":"#111","opacity":1,"angle":316},
 "encoding":{
  "x":{"field":"x","type":"quantitative","axis":{"orient":"top","values":[0,1,2],"labels":false,"tickSize":-8,"title":null}},
  "y":{"field":"h","type":"quantitative","axis":{"orient":"right","values":[0,500,1000,1500,2000,2500,3000],"labels":false,"tickSize":-13,"title":null}}
 }},
{"data":{"name":"lab1"},
 "mark":{"type":"text","font":"Liberation Sans","fontSize":30,"color":"#111","align":"center","baseline":"middle"},
 "encoding":{"x":{"field":"x","type":"quantitative","axis":null},"y":{"field":"h","type":"quantitative","axis":null},"text":{"field":"t"}}},
{"data":{"name":"lab2"},
 "mark":{"type":"text","font":"Liberation Sans","fontSize":31,"color":"#222","align":"left","baseline":"middle"},
 "encoding":{"x":{"field":"x","type":"quantitative","axis":null},"y":{"field":"h","type":"quantitative","axis":null},"text":{"field":"t"}}},
{"data":{"name":"lab3"},
 "mark":{"type":"text","font":"Liberation Sans","fontSize":31,"color":"#e8343c","align":"left","baseline":"middle"},
 "encoding":{"x":{"field":"x","type":"quantitative","axis":null},"y":{"field":"h","type":"quantitative","axis":null},"text":{"field":"t"}}}
]
}
